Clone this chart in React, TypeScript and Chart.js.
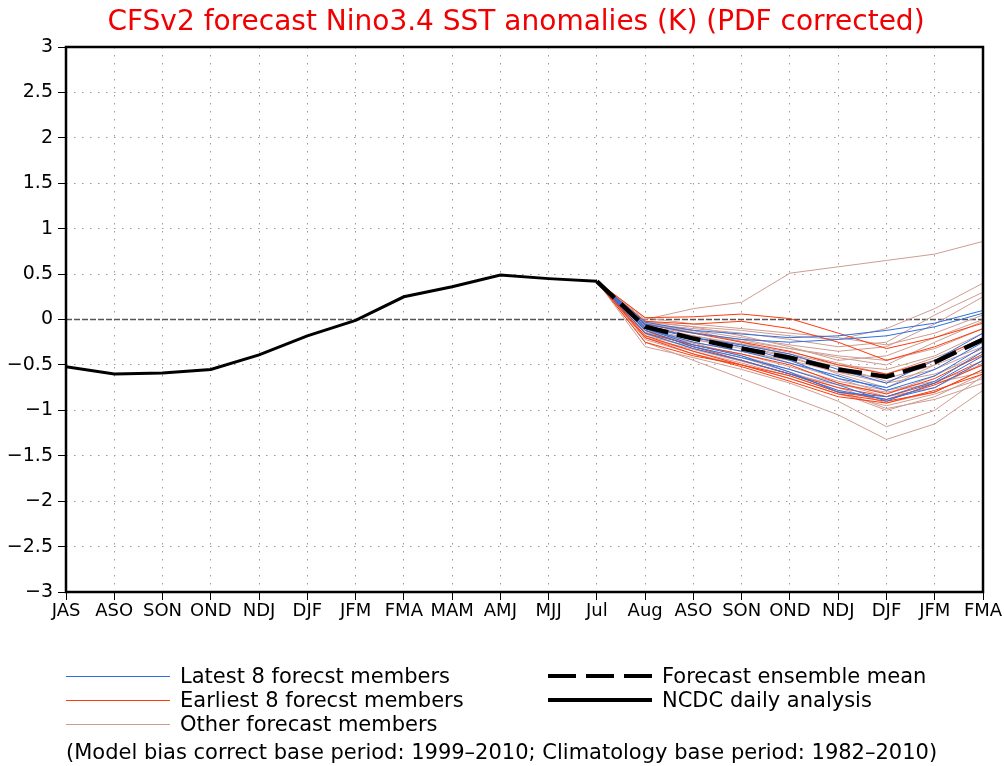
import React, { useEffect, useRef } from 'react';
import { Chart, registerables } from 'chart.js';

Chart.register(...registerables);

const CATEGORIES = ['JAS', 'ASO', 'SON', 'OND', 'NDJ', 'DJF', 'JFM', 'FMA', 'MAM', 'AMJ', 'MJJ', 'Jul', 'Aug', 'ASO', 'SON', 'OND', 'NDJ', 'DJF', 'JFM', 'FMA'];
const Y_MIN = -3;
const Y_MAX = 3;
const Y_STEP = 0.5;

// NCDC daily analysis (JAS .. Jul)
const OBSERVED = [-0.52, -0.6, -0.59, -0.55, -0.39, -0.18, -0.01, 0.25, 0.36, 0.49, 0.45, 0.42];
const FORECAST_START = 11; // index of "Jul"

// Forecast ensemble mean (Jul .. FMA)
const ENSEMBLE_MEAN = [0.42, -0.08, -0.21, -0.32, -0.42, -0.55, -0.63, -0.47, -0.22];

// Latest 8 forecast members (Jul .. FMA)
const LATEST_MEMBERS = [
  [0.42, -0.03, -0.12, -0.16, -0.2, -0.18, -0.12, -0.04, 0.1],
  [0.42, -0.05, -0.15, -0.22, -0.25, -0.22, -0.18, -0.08, 0.07],
  [0.42, -0.08, -0.2, -0.28, -0.38, -0.55, -0.7, -0.45, -0.15],
  [0.42, -0.1, -0.25, -0.35, -0.48, -0.62, -0.78, -0.62, -0.3],
  [0.42, -0.12, -0.3, -0.42, -0.55, -0.72, -0.9, -0.7, -0.4],
  [0.42, -0.15, -0.32, -0.45, -0.6, -0.78, -0.88, -0.75, -0.45],
  [0.42, -0.1, -0.28, -0.4, -0.58, -0.8, -0.85, -0.68, -0.35],
  [0.42, -0.06, -0.2, -0.3, -0.45, -0.65, -0.75, -0.55, -0.25],
];

// Earliest 8 forecast members (Jul .. FMA)
const EARLIEST_MEMBERS = [
  [0.42, 0.02, 0.03, 0.06, 0.01, -0.15, -0.32, -0.2, -0.04],
  [0.42, -0.02, -0.05, -0.02, -0.1, -0.25, -0.45, -0.3, -0.1],
  [0.42, -0.05, -0.15, -0.25, -0.35, -0.5, -0.6, -0.45, -0.2],
  [0.42, -0.12, -0.3, -0.45, -0.6, -0.75, -0.85, -0.7, -0.45],
  [0.42, -0.18, -0.35, -0.5, -0.65, -0.82, -0.9, -0.8, -0.55],
  [0.42, -0.2, -0.38, -0.52, -0.68, -0.85, -0.92, -0.78, -0.6],
  [0.42, -0.25, -0.4, -0.5, -0.62, -0.8, -0.88, -0.72, -0.5],
  [0.42, -0.15, -0.28, -0.38, -0.5, -0.7, -0.82, -0.65, -0.38],
];

// Other forecast members (Jul .. FMA)
const OTHER_MEMBERS = [
  [0.42, 0.0, 0.12, 0.19, 0.51, 0.58, 0.65, 0.72, 0.86],
  [0.42, -0.03, -0.08, -0.12, -0.18, -0.22, -0.1, 0.12, 0.4],
  [0.42, -0.05, -0.1, -0.15, -0.22, -0.3, -0.25, 0.05, 0.3],
  [0.42, -0.06, -0.12, -0.2, -0.28, -0.35, -0.3, -0.05, 0.25],
  [0.42, -0.08, -0.15, -0.22, -0.32, -0.42, -0.5, -0.25, -0.02],
  [0.42, -0.1, -0.18, -0.28, -0.38, -0.5, -0.55, -0.4, -0.15],
  [0.42, -0.3, -0.42, -0.55, -0.7, -0.9, -1.18, -1.0, -0.62],
  [0.42, -0.25, -0.45, -0.65, -0.85, -1.05, -1.32, -1.15, -0.78],
  [0.42, -0.2, -0.35, -0.48, -0.62, -0.8, -1.0, -0.85, -0.6],
  [0.42, -0.12, -0.25, -0.35, -0.45, -0.58, -0.7, -0.6, -0.4],
  [0.42, -0.15, -0.28, -0.38, -0.52, -0.68, -0.78, -0.68, -0.5],
  [0.42, -0.05, -0.12, -0.25, -0.4, -0.6, -0.75, -0.5, -0.2],
  [0.42, -0.08, -0.2, -0.3, -0.42, -0.58, -0.65, -0.5, -0.3],
  [0.42, -0.18, -0.3, -0.42, -0.58, -0.75, -0.92, -0.8, -0.55],
  [0.42, -0.22, -0.38, -0.5, -0.65, -0.82, -0.95, -0.82, -0.65],
  [0.42, -0.1, -0.22, -0.32, -0.48, -0.65, -0.82, -0.62, -0.35],
  [0.42, 0.02, -0.05, -0.1, -0.15, -0.2, -0.28, -0.15, 0.05],
  [0.42, -0.02, -0.08, -0.18, -0.3, -0.45, -0.4, -0.2, 0.0],
  [0.42, -0.14, -0.26, -0.4, -0.55, -0.7, -0.85, -0.75, -0.48],
  [0.42, -0.16, -0.32, -0.45, -0.6, -0.72, -0.8, -0.7, -0.58],
  [0.42, -0.07, -0.18, -0.27, -0.36, -0.48, -0.6, -0.42, -0.22],
  [0.42, -0.12, -0.22, -0.3, -0.4, -0.52, -0.68, -0.55, -0.32],
  [0.42, -0.04, -0.14, -0.24, -0.32, -0.4, -0.45, -0.32, -0.1],
  [0.42, -0.2, -0.33, -0.46, -0.6, -0.78, -0.98, -0.88, -0.7],
];

const TITLE = 'CFSv2 forecast Nino3.4 SST anomalies (K) (PDF corrected)';
const FOOTNOTE = '(Model bias correct base period: 1999\u20132010; Climatology base period: 1982\u20132010)';

const BLUE = '#2f6fe0';
const RED = '#ff3a0a';
const BROWN = '#cf9c92';
const FONT = "'DejaVu Sans', 'Liberation Sans', sans-serif";

const toPoints = (vals: number[], start: number) => vals.map((v, i) => ({ x: start + i, y: v }));

const frame = {
  id: 'frame',
  beforeDatasetsDraw(chart: any) {
    const { ctx, chartArea, scales } = chart;
    const y0 = scales.y.getPixelForValue(0);
    ctx.save();
    ctx.strokeStyle = '#555';
    ctx.lineWidth = 1.5;
    ctx.setLineDash([6, 2]);
    ctx.beginPath();
    ctx.moveTo(chartArea.left, y0);
    ctx.lineTo(chartArea.right, y0);
    ctx.stroke();
    ctx.restore();
  },
  afterDraw(chart: any) {
    const { ctx, chartArea } = chart;
    ctx.save();
    ctx.strokeStyle = '#000';
    ctx.lineWidth = 2.5;
    ctx.strokeRect(chartArea.left, chartArea.top, chartArea.right - chartArea.left, chartArea.bottom - chartArea.top);
    ctx.restore();
  },
};

export default function App() {
  const ref = useRef<HTMLCanvasElement>(null);

  useEffect(() => {
    if (!ref.current) return;
    const memberSet = (vals: number[], color: string, order: number) => ({
      data: toPoints(vals, FORECAST_START),
      borderColor: color,
      borderWidth: 1,
      pointRadius: 0,
      fill: false,
      tension: 0,
      order,
    });
    const datasets: any[] = [
      {
        data: toPoints(OBSERVED, 0),
        borderColor: '#000',
        borderWidth: 3,
        pointRadius: 0,
        order: 0,
      },
      {
        data: toPoints(ENSEMBLE_MEAN, FORECAST_START),
        borderColor: '#000',
        borderWidth: 4.5,
        borderDash: [24, 9],
        pointRadius: 0,
        order: 1,
      },
      ...LATEST_MEMBERS.map((m) => memberSet(m, BLUE, 2)),
      ...EARLIEST_MEMBERS.map((m) => memberSet(m, RED, 3)),
      ...OTHER_MEMBERS.map((m) => memberSet(m, BROWN, 4)),
    ];

    const chart = new Chart(ref.current, {
      type: 'line',
      data: { datasets },
      plugins: [frame],
      options: {
        animation: false,
        responsive: false,
        layout: { padding: { left: 0, right: 21, top: 47, bottom: 134 } },
        plugins: { legend: { display: false }, tooltip: { enabled: false }, title: { display: false } },
        scales: {
          x: {
            type: 'linear',
            min: 0,
            max: CATEGORIES.length - 1,
            afterFit: (s: any) => {
              s.height = 40;
              s.paddingLeft = 0;
              s.paddingRight = 0;
            },
            ticks: {
              stepSize: 1,
              autoSkip: false,
              maxRotation: 0,
              padding: 1,
              color: '#000',
              font: { family: FONT, size: 18 },
              callback: (v: any) => CATEGORIES[Math.round(Number(v))] ?? '',
            },
            grid: { color: '#999', lineWidth: 1, tickLength: 8, tickColor: '#000', tickWidth: 1 },
            border: { display: false, dash: [1.5, 6.5] },
          },
          y: {
            type: 'linear',
            min: Y_MIN,
            max: Y_MAX,
            afterFit: (s: any) => {
              s.width = 66;
              s.paddingTop = 0;
              s.paddingBottom = 0;
            },
            ticks: {
              stepSize: Y_STEP,
              padding: 5,
              color: '#000',
              font: { family: FONT, size: 19 },
              callback: (v: any) => {
                const n = Number(v);
                return (n < 0 ? '\u2212' : '') + String(Math.abs(n));
              },
            },
            grid: { color: '#999', lineWidth: 1, tickLength: 8, tickColor: '#000', tickWidth: 1 },
            border: { display: false, dash: [1.5, 6.5] },
          },
        },
      },
    });
    return () => chart.destroy();
  }, []);

  const text: React.CSSProperties = {
    position: 'absolute',
    fontFamily: FONT,
    fontSize: 21,
    color: '#000',
    whiteSpace: 'nowrap',
    lineHeight: '24px',
  };
  const line = (left: number, top: number, width: number, h: number, bg: string): React.CSSProperties => ({
    position: 'absolute',
    left,
    top: top - h / 2,
    width,
    height: h,
    background: bg,
  });
  const dashBg = 'repeating-linear-gradient(90deg, #000 0px, #000 28px, transparent 28px, transparent 38px)';

  return (
    <div style={{ position: 'absolute', left: 0, top: 0, width: 1004, height: 766, background: '#fff', overflow: 'hidden' }}>
      <canvas ref={ref} width={1004} height={766} style={{ position: 'absolute', left: 0, top: 0, width: 1004, height: 766 }} />
      <div style={{ ...text, left: 0, width: 1032, textAlign: 'center', top: 4, fontSize: 28, lineHeight: '34px', color: '#f00000' }}>{TITLE}</div>

      <div style={line(66, 676, 104, 1, BLUE)} />
      <div style={{ ...text, left: 180, top: 664 }}>Latest 8 forecst members</div>
      <div style={line(66, 700, 104, 1, RED)} />
      <div style={{ ...text, left: 180, top: 688 }}>Earliest 8 forecst members</div>
      <div style={line(66, 724, 104, 1, BROWN)} />
      <div style={{ ...text, left: 180, top: 712 }}>Other forecast members</div>

      <div style={line(548, 676, 104, 4, dashBg)} />
      <div style={{ ...text, left: 662, top: 664 }}>Forecast ensemble mean</div>
      <div style={line(548, 700, 104, 4, '#000')} />
      <div style={{ ...text, left: 662, top: 688 }}>NCDC daily analysis</div>

      <div style={{ ...text, left: 66, top: 740 }}>{FOOTNOTE}</div>
    </div>
  );
}
